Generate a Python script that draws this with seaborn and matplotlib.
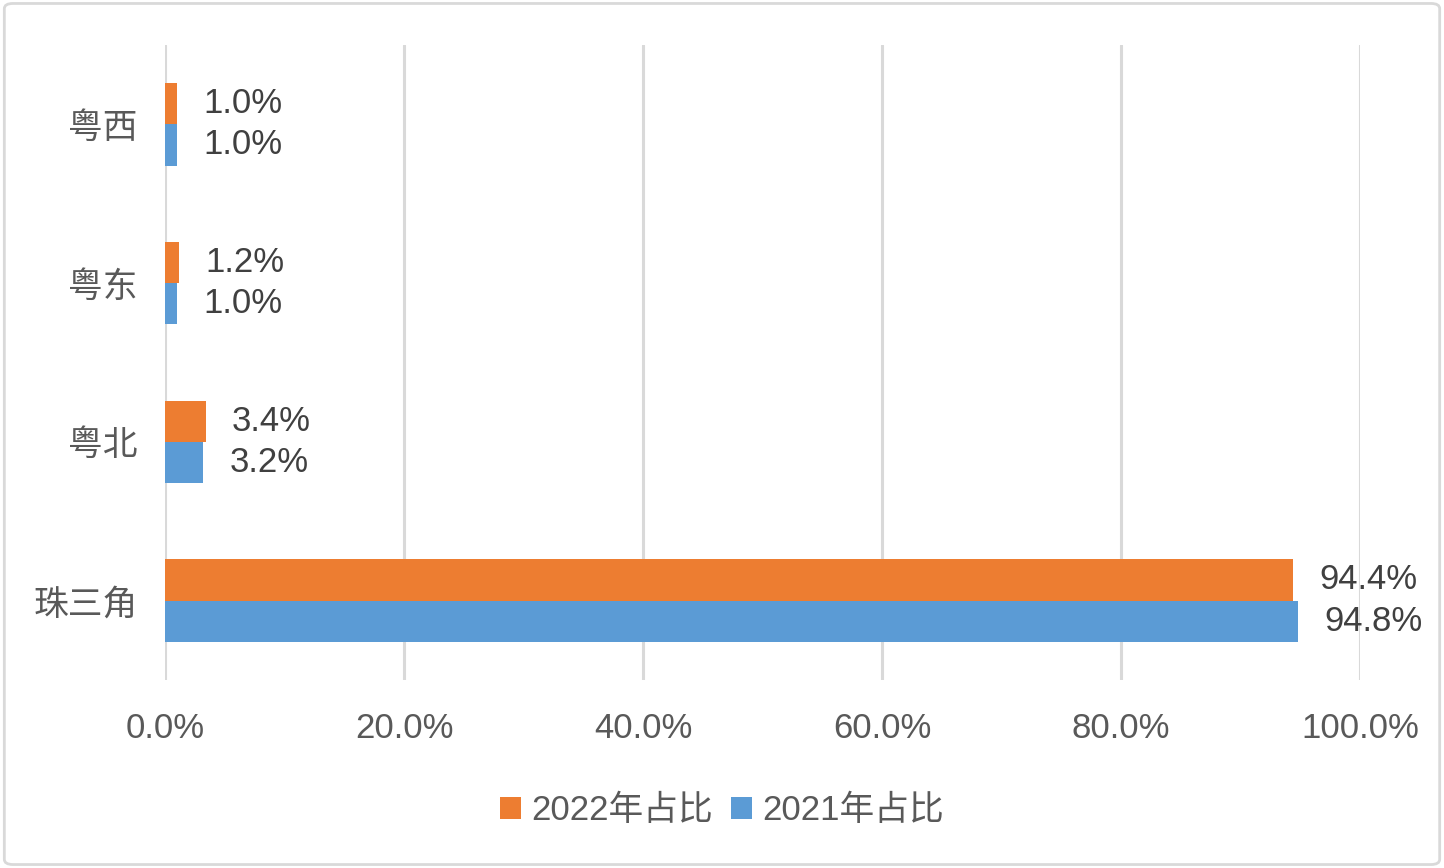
import matplotlib
matplotlib.use("Agg")
import matplotlib.pyplot as plt
import seaborn as sns
import pandas as pd
from matplotlib.patches import FancyBboxPatch
from matplotlib.ticker import FuncFormatter, MultipleLocator

regions = ["粤西", "粤东", "粤北", "珠三角"]
share_2022 = [1.0, 1.2, 3.4, 94.4]
share_2021 = [1.0, 1.0, 3.2, 94.8]
series_names = ["2022年占比", "2021年占比"]
colors = ["#ED7D31", "#5B9BD5"]

df = pd.DataFrame({
    "region": regions * 2,
    "value": share_2022 + share_2021,
    "series": [series_names[0]] * len(regions) + [series_names[1]] * len(regions),
})

sns.set_theme(style="white")
plt.rcParams["font.family"] = ["Liberation Sans", "Noto Sans CJK SC"]

FS = 25

fig = plt.figure(figsize=(14.44, 8.68), dpi=100)
ax = fig.add_axes([0.1143, 0.2166, 0.8275, 0.7316])

sns.barplot(data=df, y="region", x="value", hue="series", order=regions,
            hue_order=series_names, palette=colors, orient="h", width=0.52,
            saturation=1, linewidth=0, ax=ax, zorder=3)

ax.set_xlim(0, 100)
ax.xaxis.set_major_locator(MultipleLocator(20))
ax.xaxis.set_major_formatter(FuncFormatter(lambda v, p: f"{v:.1f}%"))
ax.grid(axis="x", color="#d9d9d9", linewidth=2.2, zorder=0)
ax.grid(axis="y", visible=False)
for s in ax.spines.values():
    s.set_visible(False)
ax.set_xlabel("")
ax.set_ylabel("")
ax.tick_params(axis="x", length=0, pad=23, labelsize=FS, labelcolor="#595959")
ax.tick_params(axis="y", length=0, pad=20, labelcolor="#595959")
for lbl in ax.get_yticklabels():
    lbl.set_fontfamily(["Noto Sans CJK SC"])
    lbl.set_fontsize(FS)

for cont in ax.containers:
    labels = [f"{b.get_width():.1f}%" for b in cont]
    ax.bar_label(cont, labels=labels, padding=19, fontsize=FS, color="#404040")

leg = ax.legend(loc="center", bbox_to_anchor=(0.5, 0.066), bbox_transform=fig.transFigure,
                ncol=2, frameon=False, fontsize=FS, handlelength=0.6, handleheight=0.6,
                handletextpad=0.3, columnspacing=0.5)
for t in leg.get_texts():
    t.set_color("#595959")

border = FancyBboxPatch((0.003, 0.004), 0.994, 0.992, boxstyle="round,pad=0,rounding_size=0.006",
                        transform=fig.transFigure, fill=False, edgecolor="#d9d9d9", linewidth=2)
fig.patches.append(border)

fig.savefig("out.png", dpi=100)
